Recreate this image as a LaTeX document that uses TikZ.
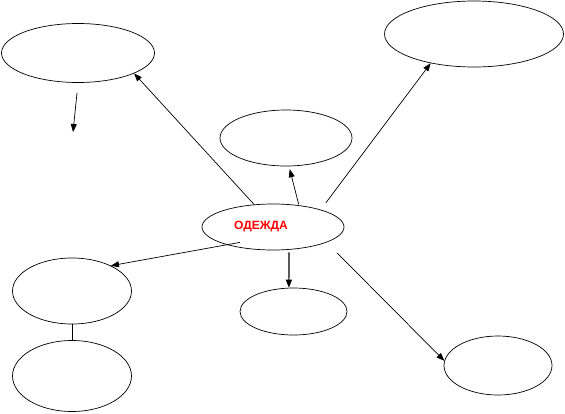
\documentclass[tikz,border=0pt]{standalone}
\usepackage{fontspec}
\setmainfont{Liberation Sans}
\usetikzlibrary{shapes.geometric,arrows.meta}
\tikzset{
  oval/.style={draw, ellipse, line width=0.7pt, inner sep=0pt},
  link/.style={line width=0.7pt, -{Triangle[length=8pt,width=6pt]}},
}
\begin{document}
\begin{tikzpicture}[x=1pt, y=-1pt]
  \useasboundingbox (0,0) rectangle (565,413);
  % ovals
  \foreach \name/\x/\y/\w/\h in {ctr/273/227/142/46, tl/78/53/153/59,
      tr/474/34/179/66, mt/286/138/132/56, lm/72/291/119/66,
      bl/72/376/119/71, bm/293.5/311.5/107/47, br/498/365.5/108/59}
    \node [oval, minimum width=\w pt, minimum height=\h pt] (\name) at (\x,\y) {};
  % label
  \node [font=\bfseries\fontsize{12}{14}\selectfont, text=red] (lbl)
    at ([xshift=-12pt, yshift=1pt]ctr.center) {ОДЕЖДА};
  % arrows
  \draw [link] (ctr.130) -- (tl.-20);
  \draw [link, shorten <=1pt, shorten >=3pt] (ctr.40) -- (mt.-84);
  \draw [link, shorten <=8.5pt] (ctr.20) -- (tr.-146);
  \draw [link, shorten <=-13.5pt] (ctr.-159) -- (lm.33);
  \draw [link, line width=1.2pt, shorten <=2.6pt] (ctr.-55) -- (bm.101);
  \draw [link, shorten <=15pt] (ctr.-16) -- (br.175);
  \draw [line width=0.7pt] (lm.south) -- (bl.north);
  % loose arrow
  \coordinate (s1) at (77,93);
  \coordinate (s2) at (73,132);
  \draw [link] (s1) -- (s2);
\end{tikzpicture}
\end{document}
